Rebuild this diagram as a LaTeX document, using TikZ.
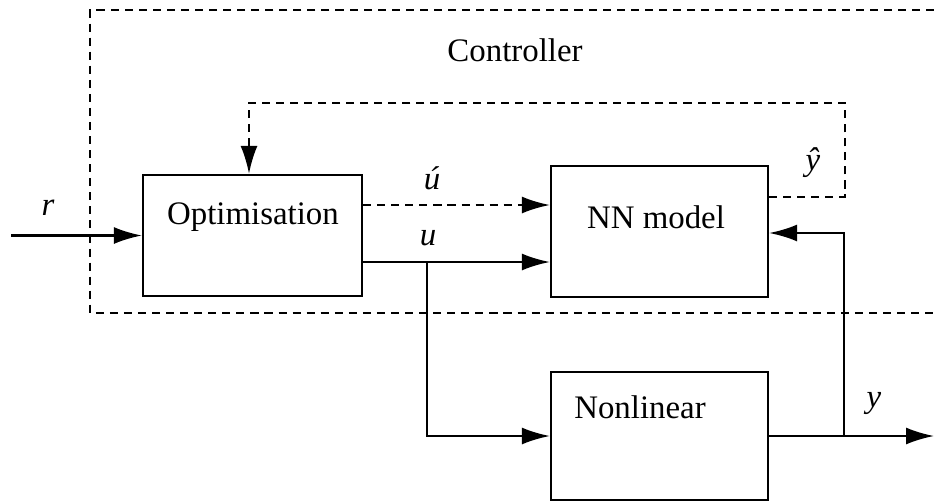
\documentclass[tikz,border=0pt]{standalone}
\usepackage{fontspec}
\setmainfont{LiberationSerif}[Extension=.ttf, UprightFont=*-Regular, ItalicFont=*-Italic, BoldFont=*-Bold]
\usetikzlibrary{arrows.meta}

\begin{document}
\begin{tikzpicture}[align=center, font=\fontsize{18.7}{22}\selectfont,
    blockbox/.style={draw=black, line width=1.3pt, rectangle, inner sep=0pt},
    sig/.style={line width=1.3pt, -{Latex[length=0.56cm,width=0.34cm]}},
    plain/.style={line width=1.3pt},
    dashsig/.style={line width=1.3pt, dash pattern=on 4.6pt off 3.4pt}]
      \useasboundingbox (0,0) rectangle (18.68,10.06);
      % controller frame
      \draw[dashsig] (18.68,9.86) -- (1.8,9.86) -- (1.8,3.8) -- (18.68,3.8);
      \node (CT) at (10.3,9.06) {Controller};
      %
      \node[blockbox, minimum width=4.38cm, minimum height=2.42cm] (OPT) at (5.05,5.35) {};
      \node[blockbox, minimum width=4.34cm, minimum height=2.62cm] (NN) at (13.19,5.43) {};
      \node[blockbox, minimum width=4.34cm, minimum height=2.56cm] (NL) at (13.19,1.34) {};
      \node (OPTt) at (5.06,5.72) {Optimisation};
      \node (NNt) at (13.12,5.72) {NN model};
      \node (NLt) at (12.8,1.92) {Nonlinear};
      %
      \coordinate (R0) at (0.22,5.35);
      \coordinate (BR) at (8.54,4.82);
      \coordinate (FB) at (16.88,1.34);
      \coordinate (Y1) at (18.68,1.34);
      %
      \draw[sig] (R0) -- (OPT.west);
      \node (Rl) at (0.96,5.9) {\textit{r}};
      \draw[dashsig, -{Latex[length=0.56cm,width=0.34cm]}] (OPT.east |- 0,5.96) -- (NN.west |- 0,5.96);
      \node (Ua) at (8.64,6.5) {\textit{ú}};
      \draw[sig] (OPT.east |- 0,4.82) -- (NN.west |- 0,4.82);
      \node (Ul) at (8.56,5.3) {\textit{u}};
      \draw[sig] (BR) |- (NL.west);
      %
      \draw[dashsig, -{Latex[length=0.56cm,width=0.34cm]}] (NN.east |- 0,6.12) -| (16.9,8.0) -| (OPT.north -| 4.98,0);
      \node (Yh) at (16.26,6.8) {\textit{ŷ}};
      %
      \draw[plain] (NL.east) -- (FB);
      \draw[sig] (FB) -- (Y1);
      \draw[sig] (FB) |- (NN.east |- 0,5.4);
      \node (Yl) at (17.48,2.0) {\textit{y}};
    \end{tikzpicture}
\end{document}
